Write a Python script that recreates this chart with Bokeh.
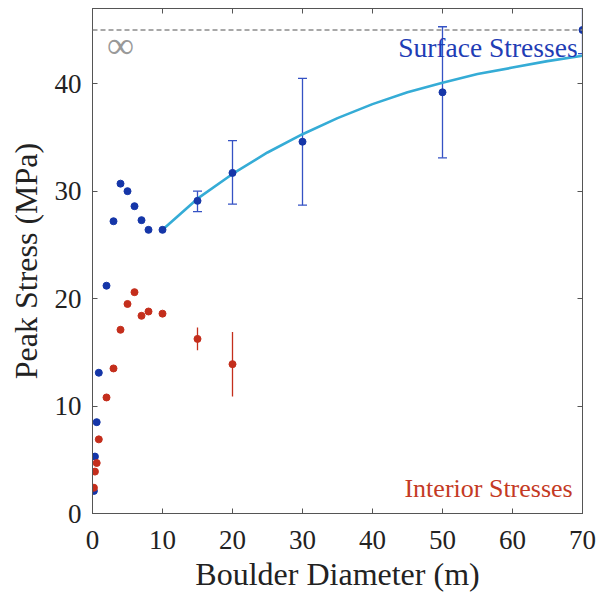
from bokeh.plotting import figure
from bokeh.models import ColumnDataSource, Whisker, TeeHead, LinearAxis, Span, Range1d, FixedTicker
from bokeh.core.properties import value
from bokeh.embed import file_html
from bokeh.resources import INLINE

# Surface stresses (blue)
surf_d = [0.2, 0.35, 0.6, 0.9, 2, 3, 4, 5, 6, 7, 8, 10, 15, 20, 30, 50, 70]
surf_s = [2.1, 5.3, 8.5, 13.1, 21.2, 27.2, 30.7, 30.0, 28.6, 27.3, 26.4, 26.4, 29.1, 31.7, 34.6, 39.2, 45.0]
surf_err_d = [15, 20, 30, 50, 70]
surf_err_lo = [28.1, 28.8, 28.7, 33.1, 42.8]
surf_err_hi = [30.0, 34.7, 40.5, 45.3, 47.2]

# Interior stresses (red)
int_d = [0.2, 0.35, 0.6, 0.9, 2, 3, 4, 5, 6, 7, 8, 10, 15, 20]
int_s = [2.4, 3.9, 4.7, 6.9, 10.8, 13.5, 17.1, 19.5, 20.6, 18.4, 18.8, 18.6, 16.25, 13.9]
int_err_d = [15, 20]
int_err_lo = [15.2, 10.9]
int_err_hi = [17.3, 16.9]

# Fit curve (cyan)
fit_d = [10, 15, 20, 25, 30, 35, 40, 45, 50, 55, 60, 65, 70]
fit_s = [26.4, 29.3, 31.6, 33.6, 35.3, 36.8, 38.1, 39.2, 40.1, 40.9, 41.5, 42.1, 42.6]

asymptote = 45
x_ticks = [0, 10, 20, 30, 40, 50, 60, 70]
y_ticks = [0, 10, 20, 30, 40]

BLUE = "#1536a8"
BLUE_ERR = "#3552c4"
RED = "#c42e1c"
CYAN = "#35acd6"
FONT = "'Liberation Serif'"

p = figure(frame_width=490, frame_height=505, output_backend="svg", toolbar_location=None,
           x_range=Range1d(0, 70), y_range=Range1d(0, 47),
           min_border_left=92, min_border_right=14, min_border_top=8, min_border_bottom=80,
           background_fill_color="white", border_fill_color="white")
p.outline_line_color = "#555555"
p.grid.visible = False

for ax in [p.xaxis[0], p.yaxis[0]]:
    ax.major_tick_in = 5
    ax.major_tick_out = 0
    ax.minor_tick_in = 0
    ax.minor_tick_out = 0
    ax.axis_line_color = "#555555"
    ax.major_tick_line_color = "#555555"
    ax.major_label_text_font = FONT
    ax.major_label_text_font_size = "27px"
    ax.major_label_text_color = "#222222"
    ax.axis_label_text_font = FONT
    ax.axis_label_text_font_size = "32px"
    ax.axis_label_text_font_style = "normal"
    ax.axis_label_text_color = "#222222"

p.xaxis[0].ticker = FixedTicker(ticks=x_ticks)
p.yaxis[0].ticker = FixedTicker(ticks=y_ticks)
p.xaxis[0].axis_label = "Boulder Diameter (m)"
p.yaxis[0].axis_label = "Peak Stress (MPa)"
p.xaxis[0].major_label_standoff = 17
p.yaxis[0].major_label_standoff = 11
p.xaxis[0].axis_label_standoff = 4
p.yaxis[0].axis_label_standoff = 8

for loc, ticks in [("above", x_ticks), ("right", y_ticks)]:
    ax = LinearAxis(ticker=FixedTicker(ticks=ticks))
    ax.major_tick_in = 5
    ax.major_tick_out = 0
    ax.minor_tick_in = 0
    ax.minor_tick_out = 0
    ax.major_label_overrides = {t: "" for t in ticks}
    ax.major_label_standoff = 0
    ax.axis_line_color = "#555555"
    ax.major_tick_line_color = "#555555"
    p.add_layout(ax, loc)

p.add_layout(Span(location=asymptote, dimension="width", line_color="#8c8c8c",
                  line_dash="5 3", line_width=1.3))

p.text(x=[4.0], y=[43.6], text=["∞"], text_font=value("Liberation Serif"), text_font_size="38px",
       text_color="#999999", text_align="center", text_baseline="middle")

# fit curve
p.line(fit_d, fit_s, line_color=CYAN, line_width=2.6)

# blue error bars
src_b = ColumnDataSource(dict(x=surf_err_d, lo=surf_err_lo, hi=surf_err_hi))
p.add_layout(Whisker(source=src_b, base="x", lower="lo", upper="hi", line_color=BLUE_ERR, line_width=1.3,
                     upper_head=TeeHead(size=9, line_color=BLUE_ERR, line_width=1.3),
                     lower_head=TeeHead(size=9, line_color=BLUE_ERR, line_width=1.3)))

# red error bars (no caps)
p.segment(x0=int_err_d, y0=int_err_lo, x1=int_err_d, y1=int_err_hi, line_color=RED, line_width=1.3)

p.scatter(surf_d, surf_s, size=7, fill_color=BLUE, line_color=BLUE)
p.scatter(int_d, int_s, size=7, fill_color=RED, line_color=RED)

p.text(x=[69.3], y=[43.4], text=["Surface Stresses"], text_font=value("Liberation Serif"), text_font_size="27.5px",
       text_color="#1f3db5", text_align="right", text_baseline="alphabetic")
p.text(x=[68.6], y=[2.3], text=["Interior Stresses"], text_font=value("Liberation Serif"), text_font_size="26px",
       text_color="#c43a24", text_align="right", text_baseline="alphabetic")

open("out.html", "w").write(file_html(p, INLINE))
